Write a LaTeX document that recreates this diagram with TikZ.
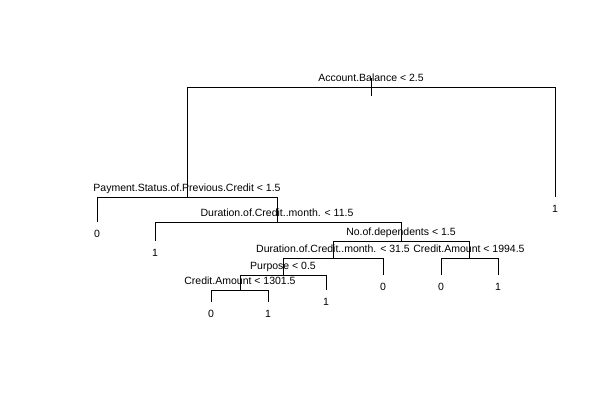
\documentclass[tikz,border=0pt]{standalone}
\usepackage{fontspec}
\setmainfont{Liberation Sans}
\begin{document}
\begin{tikzpicture}[x=1pt,y=-1pt,
  edge/.style={draw=black,line width=1pt},
  splitlab/.style={anchor=base,inner sep=0pt,font=\fontsize{10.5}{12}\selectfont},
  leaflab/.style={anchor=base,inner sep=0pt,font=\fontsize{10.5}{12}\selectfont}]
\useasboundingbox[fill=white] (0,0) rectangle (614,408);
% split and leaf positions
\coordinate (n1) at (371,87);
\coordinate (n2) at (187,197);
\coordinate (n3) at (555,197);
\coordinate (n4) at (97,222);
\coordinate (n5) at (277,222);
\coordinate (n6) at (155,241);
\coordinate (n7) at (401,241);
\coordinate (n8) at (333,258);
\coordinate (n9) at (469,258);
\coordinate (n10) at (283,275);
\coordinate (n11) at (383,275);
\coordinate (n12) at (441,275);
\coordinate (n13) at (498,275);
\coordinate (n14) at (240,290);
\coordinate (n15) at (326,290);
\coordinate (n16) at (211,302);
\coordinate (n17) at (268,302);
\coordinate (rt) at (371,78);
\coordinate (rb) at (371,96);
% edges
\draw[edge] (rt) -- (rb);
\draw[edge] (n1) -| (n2);
\draw[edge] (n1) -| (n3);
\draw[edge] (n2) -| (n4);
\draw[edge] (n2) -| (n5);
\draw[edge] (n5) -| (n6);
\draw[edge] (n5) -| (n7);
\draw[edge] (n7) -| (n8);
\draw[edge] (n7) -| (n9);
\draw[edge] (n8) -| (n10);
\draw[edge] (n8) -| (n11);
\draw[edge] (n9) -| (n12);
\draw[edge] (n9) -| (n13);
\draw[edge] (n10) -| (n14);
\draw[edge] (n10) -| (n15);
\draw[edge] (n14) -| (n16);
\draw[edge] (n14) -| (n17);
% split labels
\node[splitlab] (s1) at ([yshift=6pt]n1) {Account.Balance < 2.5};
\node[splitlab] (s2) at ([yshift=6pt]n2) {Payment.Status.of.Previous.Credit < 1.5};
\node[splitlab] (s5) at ([yshift=6pt]n5) {Duration.of.Credit..month. < 11.5};
\node[splitlab] (s7) at ([yshift=6pt]n7) {No.of.dependents < 1.5};
\node[splitlab] (s8) at ([yshift=6pt]n8) {Duration.of.Credit..month. < 31.5};
\node[splitlab] (s9) at ([yshift=6pt]n9) {Credit.Amount < 1994.5};
\node[splitlab] (s10) at ([yshift=6pt]n10) {Purpose < 0.5};
\node[splitlab] (s14) at ([yshift=6pt]n14) {Credit.Amount < 1301.5};
% leaf labels
\node[leaflab] (l3) at ([yshift=-15pt]n3) {1};
\node[leaflab] (l4) at ([yshift=-15pt]n4) {0};
\node[leaflab] (l6) at ([yshift=-15pt]n6) {1};
\node[leaflab] (l11) at ([yshift=-15pt]n11) {0};
\node[leaflab] (l12) at ([yshift=-15pt]n12) {0};
\node[leaflab] (l13) at ([yshift=-15pt]n13) {1};
\node[leaflab] (l15) at ([yshift=-15pt]n15) {1};
\node[leaflab] (l16) at ([yshift=-15pt]n16) {0};
\node[leaflab] (l17) at ([yshift=-15pt]n17) {1};
\end{tikzpicture}
\end{document}
